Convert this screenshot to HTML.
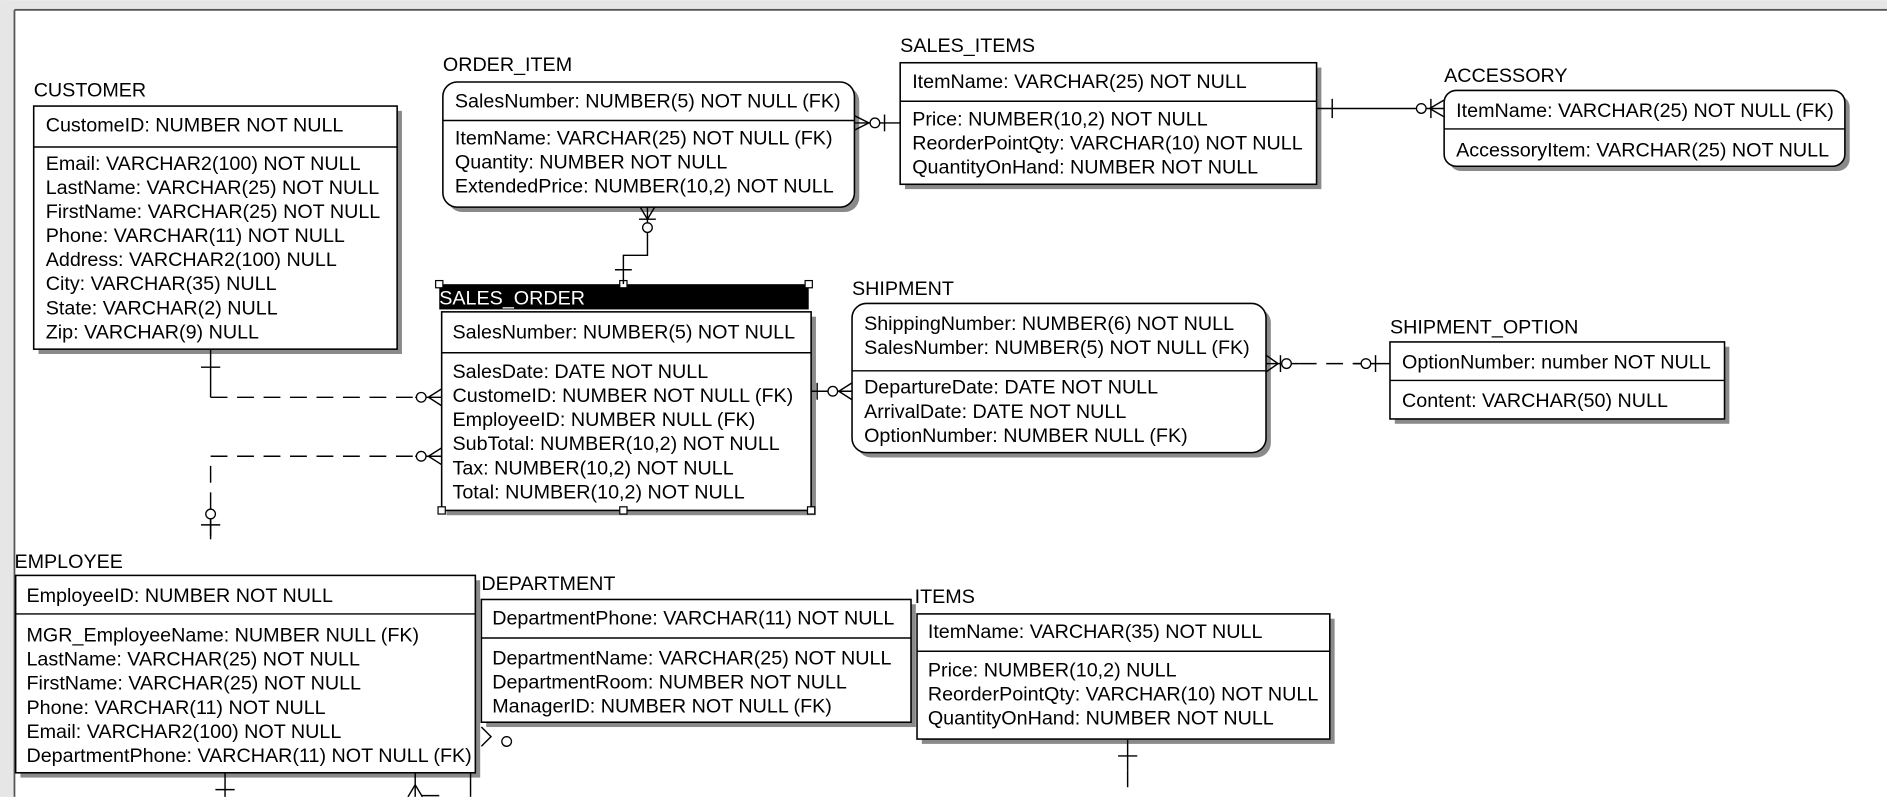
<!DOCTYPE html>
<html><head><meta charset="utf-8"><style>
html,body{margin:0;padding:0;background:#fff;width:1887px;height:797px;overflow:hidden}
svg{display:block}
text{font-family:"Liberation Sans",Arial,sans-serif;font-size:16.4px;fill:#000}
.b{fill:#fff;stroke:#000;stroke-width:1.3}
.s{fill:#8a8a8a}
.l{stroke:#000;stroke-width:1.2;fill:none}
.d{stroke:#000;stroke-width:1.2;fill:none;stroke-dasharray:14 8}
.c{fill:#fff;stroke:#000;stroke-width:1.1}
</style></head><body>
<svg width="1887" height="797" viewBox="0 0 1568 662" xmlns="http://www.w3.org/2000/svg">
<rect x="0" y="0" width="1568" height="662" fill="#fff"/>
<rect x="0" y="0" width="11" height="662" fill="#e6e6e6"/>
<rect x="0" y="0" width="1568" height="7" fill="#e6e6e6"/>
<line x1="12" y1="8" x2="12" y2="662" stroke="#555" stroke-width="1.5"/>
<line x1="12" y1="8" x2="1568" y2="8" stroke="#555" stroke-width="1.5"/>

<!-- CUSTOMER -->
<text x="28" y="80">CUSTOMER</text>
<rect class="s" x="32" y="92" width="302" height="202"/>
<rect class="b" x="28" y="88" width="302" height="202"/>
<line class="l" x1="28" y1="122" x2="330" y2="122"/>
<text x="38" y="109">CustomeID: NUMBER NOT NULL</text>
<text x="38" y="141">Email: VARCHAR2(100) NOT NULL</text>
<text x="38" y="161">LastName: VARCHAR(25) NOT NULL</text>
<text x="38" y="181">FirstName: VARCHAR(25) NOT NULL</text>
<text x="38" y="201">Phone: VARCHAR(11) NOT NULL</text>
<text x="38" y="221">Address: VARCHAR2(100) NULL</text>
<text x="38" y="241">City: VARCHAR(35) NULL</text>
<text x="38" y="261">State: VARCHAR(2) NULL</text>
<text x="38" y="281">Zip: VARCHAR(9) NULL</text>

<!-- ORDER_ITEM -->
<text x="368" y="59">ORDER_ITEM</text>
<rect class="s" x="372" y="72" width="342" height="104" rx="12"/>
<rect class="b" x="368" y="68" width="342" height="104" rx="12"/>
<line class="l" x1="368" y1="100" x2="710" y2="100"/>
<text x="378" y="89">SalesNumber: NUMBER(5) NOT NULL (FK)</text>
<text x="378" y="120">ItemName: VARCHAR(25) NOT NULL (FK)</text>
<text x="378" y="140">Quantity: NUMBER NOT NULL</text>
<text x="378" y="160">ExtendedPrice: NUMBER(10,2) NOT NULL</text>

<!-- SALES_ITEMS -->
<text x="748" y="43">SALES_ITEMS</text>
<rect class="s" x="752" y="56" width="346" height="101"/>
<rect class="b" x="748" y="52" width="346" height="101"/>
<line class="l" x1="748" y1="84" x2="1094" y2="84"/>
<text x="758" y="73">ItemName: VARCHAR(25) NOT NULL</text>
<text x="758" y="104">Price: NUMBER(10,2) NOT NULL</text>
<text x="758" y="124">ReorderPointQty: VARCHAR(10) NOT NULL</text>
<text x="758" y="144">QuantityOnHand: NUMBER NOT NULL</text>

<!-- ACCESSORY -->
<text x="1200" y="68">ACCESSORY</text>
<rect class="s" x="1204" y="79" width="333" height="63" rx="10"/>
<rect class="b" x="1200" y="75" width="333" height="63" rx="10"/>
<line class="l" x1="1200" y1="107" x2="1533" y2="107"/>
<text x="1210" y="97">ItemName: VARCHAR(25) NOT NULL (FK)</text>
<text x="1210" y="130">AccessoryItem: VARCHAR(25) NOT NULL</text>

<!-- SALES_ORDER -->
<rect x="365" y="236" width="307" height="21" fill="#000"/>
<text x="365" y="253" style="fill:#fff">SALES_ORDER</text>
<rect class="s" x="371" y="263" width="307" height="165"/>
<rect class="b" x="367" y="259" width="307" height="165"/>
<line class="l" x1="367" y1="293" x2="674" y2="293"/>
<text x="376" y="281">SalesNumber: NUMBER(5) NOT NULL</text>
<text x="376" y="314">SalesDate: DATE NOT NULL</text>
<text x="376" y="334">CustomeID: NUMBER NOT NULL (FK)</text>
<text x="376" y="354">EmployeeID: NUMBER NULL (FK)</text>
<text x="376" y="374">SubTotal: NUMBER(10,2) NOT NULL</text>
<text x="376" y="394">Tax: NUMBER(10,2) NOT NULL</text>
<text x="376" y="414">Total: NUMBER(10,2) NOT NULL</text>
<g fill="#fff" stroke="#000" stroke-width="1">
<rect x="362" y="233" width="6" height="6"/><rect x="515" y="233" width="6" height="6"/><rect x="669" y="233" width="6" height="6"/>
<rect x="364" y="421" width="6" height="6"/><rect x="515" y="421" width="6" height="6"/><rect x="671" y="421" width="6" height="6"/>
</g>

<!-- SHIPMENT -->
<text x="708" y="245">SHIPMENT</text>
<rect class="s" x="712" y="256" width="344" height="124" rx="12"/>
<rect class="b" x="708" y="252" width="344" height="124" rx="12"/>
<line class="l" x1="708" y1="308" x2="1052" y2="308"/>
<text x="718" y="274">ShippingNumber: NUMBER(6) NOT NULL</text>
<text x="718" y="294">SalesNumber: NUMBER(5) NOT NULL (FK)</text>
<text x="718" y="327">DepartureDate: DATE NOT NULL</text>
<text x="718" y="347">ArrivalDate: DATE NOT NULL</text>
<text x="718" y="367">OptionNumber: NUMBER NULL (FK)</text>

<!-- SHIPMENT_OPTION -->
<text x="1155" y="277">SHIPMENT_OPTION</text>
<rect class="s" x="1159" y="288" width="278" height="64"/>
<rect class="b" x="1155" y="284" width="278" height="64"/>
<line class="l" x1="1155" y1="316" x2="1433" y2="316"/>
<text x="1165" y="306">OptionNumber: number NOT NULL</text>
<text x="1165" y="338">Content: VARCHAR(50) NULL</text>

<!-- EMPLOYEE -->
<text x="12" y="472">EMPLOYEE</text>
<rect class="s" x="17" y="482" width="382" height="164"/>
<rect class="b" x="13" y="478" width="382" height="164"/>
<line class="l" x1="13" y1="510" x2="395" y2="510"/>
<text x="22" y="500">EmployeeID: NUMBER NOT NULL</text>
<text x="22" y="533">MGR_EmployeeName: NUMBER NULL (FK)</text>
<text x="22" y="553">LastName: VARCHAR(25) NOT NULL</text>
<text x="22" y="573">FirstName: VARCHAR(25) NOT NULL</text>
<text x="22" y="593">Phone: VARCHAR(11) NOT NULL</text>
<text x="22" y="613">Email: VARCHAR2(100) NOT NULL</text>
<text x="22" y="633">DepartmentPhone: VARCHAR(11) NOT NULL (FK)</text>

<!-- DEPARTMENT -->
<text x="400" y="490">DEPARTMENT</text>
<rect class="s" x="404" y="502" width="357" height="102"/>
<rect class="b" x="400" y="498" width="357" height="102"/>
<line class="l" x1="400" y1="530" x2="757" y2="530"/>
<text x="409" y="519">DepartmentPhone: VARCHAR(11) NOT NULL</text>
<text x="409" y="552">DepartmentName: VARCHAR(25) NOT NULL</text>
<text x="409" y="572">DepartmentRoom: NUMBER NOT NULL</text>
<text x="409" y="592">ManagerID: NUMBER NOT NULL (FK)</text>

<!-- ITEMS -->
<text x="760" y="501">ITEMS</text>
<rect class="s" x="766" y="514" width="343" height="104"/>
<rect class="b" x="762" y="510" width="343" height="104"/>
<line class="l" x1="762" y1="541" x2="1105" y2="541"/>
<text x="771" y="530">ItemName: VARCHAR(35) NOT NULL</text>
<text x="771" y="562">Price: NUMBER(10,2) NULL</text>
<text x="771" y="582">ReorderPointQty: VARCHAR(10) NOT NULL</text>
<text x="771" y="602">QuantityOnHand: NUMBER NOT NULL</text>

<!-- Connectors -->
<line class="l" x1="710" y1="102" x2="748" y2="102"/>
<path class="l" d="M710 96 L722 102 L710 108"/>
<circle class="c" cx="727" cy="102" r="4"/>
<line class="l" x1="735" y1="95" x2="735" y2="109"/>
<line class="l" x1="1094" y1="90" x2="1200" y2="90"/>
<line class="l" x1="1107" y1="82" x2="1107" y2="98"/>
<path class="l" d="M1200 83 L1188 90 L1200 97"/>
<line class="l" x1="1189" y1="82" x2="1189" y2="98"/>
<circle class="c" cx="1181" cy="90" r="4"/>
<path class="l" d="M538 172 L538 212 L518 212 L518 236"/>
<path class="l" d="M532 172 L538 182 L544 172"/>
<line class="l" x1="531" y1="182" x2="545" y2="182"/>
<circle class="c" cx="538" cy="189" r="4"/>
<line class="l" x1="511" y1="224" x2="525" y2="224"/>
<line class="l" x1="175" y1="290" x2="175" y2="330"/>
<line class="l" x1="167" y1="305" x2="183" y2="305"/>
<line class="d" x1="175" y1="330" x2="345" y2="330"/>
<line class="l" x1="345" y1="330" x2="367" y2="330"/>
<path class="l" d="M367 323 L356 330 L367 337"/>
<circle class="c" cx="350" cy="330" r="4"/>
<line class="d" x1="175" y1="445" x2="175" y2="379"/>
<line class="d" x1="175" y1="379" x2="345" y2="379"/>
<line class="l" x1="345" y1="379" x2="367" y2="379"/>
<path class="l" d="M367 372 L356 379 L367 386"/>
<circle class="c" cx="350" cy="379" r="4"/>
<line class="l" x1="175" y1="422" x2="175" y2="448"/>
<circle class="c" cx="175" cy="427" r="4"/>
<line class="l" x1="167" y1="436" x2="183" y2="436"/>
<line class="l" x1="674" y1="325" x2="708" y2="325"/>
<line class="l" x1="679" y1="318" x2="679" y2="332"/>
<path class="l" d="M708 318 L697 325 L708 332"/>
<circle class="c" cx="692" cy="325" r="4"/>
<line class="l" x1="1052" y1="302" x2="1080" y2="302"/>
<path class="l" d="M1052 295 L1062 302 L1052 309"/>
<line class="l" x1="1064" y1="295" x2="1064" y2="309"/>
<circle class="c" cx="1069" cy="302" r="4"/>
<line class="d" x1="1080" y1="302" x2="1130" y2="302"/>
<line class="l" x1="1125" y1="302" x2="1155" y2="302"/>
<circle class="c" cx="1135" cy="302" r="4"/>
<line class="l" x1="1143" y1="295" x2="1143" y2="309"/>
<line class="l" x1="187" y1="642" x2="187" y2="662"/>
<line class="l" x1="179" y1="656" x2="195" y2="656"/>
<line class="l" x1="345" y1="642" x2="345" y2="662"/>
<path class="l" d="M339 662 L345 652 L351 662"/>
<line class="l" x1="391" y1="642" x2="391" y2="662"/>
<line class="l" x1="350" y1="661" x2="365" y2="661"/>
<path class="l" d="M400 604 L408 612 L400 620"/>
<circle class="c" cx="421" cy="616" r="4"/>
<line class="l" x1="937" y1="614" x2="937" y2="640"/>
<line class="l" x1="929" y1="628" x2="945" y2="628"/>
<line class="d" x1="937" y1="640" x2="937" y2="662"/>
</svg>
</body></html>
